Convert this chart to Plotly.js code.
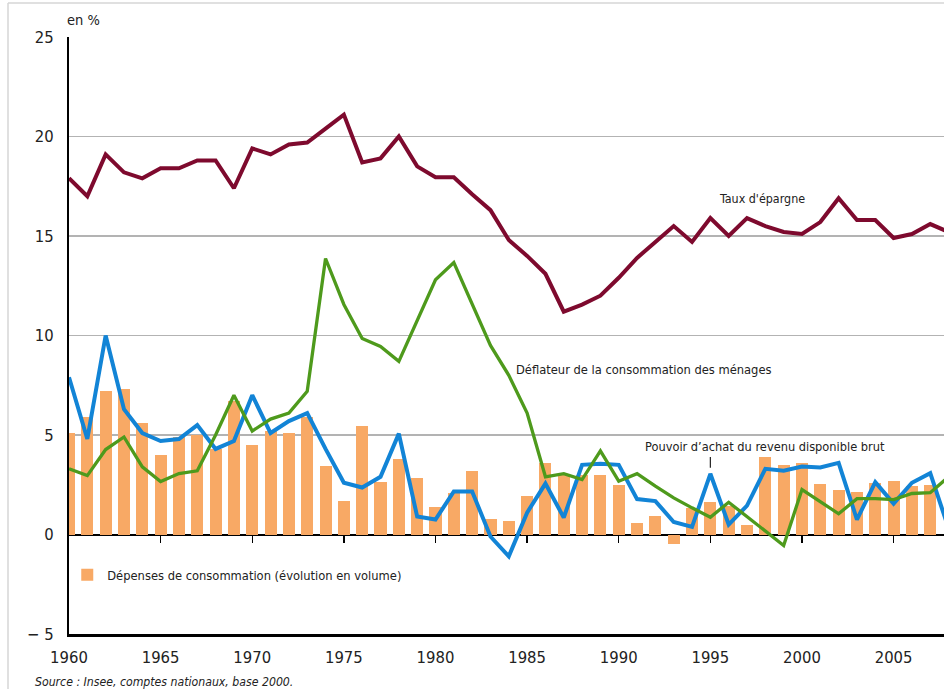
<!DOCTYPE html>
<html>
<head>
<meta charset="utf-8">
<script src="https://cdn.plot.ly/plotly-3.0.1.min.js"></script>
<style>html,body{margin:0;padding:0;background:#fff;}#chart{width:944px;height:689px;}</style>
</head>
<body>
<div id="chart"></div>
<script>
var years = [1960,1961,1962,1963,1964,1965,1966,1967,1968,1969,
             1970,1971,1972,1973,1974,1975,1976,1977,1978,1979,
             1980,1981,1982,1983,1984,1985,1986,1987,1988,1989,
             1990,1991,1992,1993,1994,1995,1996,1997,1998,1999,
             2000,2001,2002,2003,2004,2005,2006,2007,2008];

var barYears = [1960,1961,1962,1963,1964,1965,1966,1967,1968,1969,
                1970,1971,1972,1973,1974,1975,1976,1977,1978,1979,
                1980,1981,1982,1983,1984,1985,1986,1987,1988,1989,
                1990,1991,1992,1993,1994,1995,1996,1997,1998,1999,
                2000,2001,2002,2003,2004,2005,2006,2007];

var tauxEpargne = [17.9,17.0,19.1,18.2,17.9,18.4,18.4,18.8,18.8,17.4,
                   19.4,19.1,19.6,19.7,20.4,21.1,18.7,18.9,20.0,18.5,
                   17.95,17.95,17.1,16.3,14.8,14.0,13.1,11.2,11.55,12.0,
                   12.9,13.9,14.7,15.5,14.7,15.9,15.0,15.9,15.5,15.2,
                   15.1,15.7,16.9,15.8,15.8,14.9,15.1,15.6,15.2];

var deflateur = [3.3,2.96,4.27,4.9,3.4,2.66,3.06,3.2,5.0,7.0,
                 5.2,5.8,6.1,7.2,13.87,11.56,9.85,9.45,8.7,10.8,
                 12.8,13.67,11.56,9.5,8.0,6.1,2.9,3.06,2.76,4.2,
                 2.68,3.06,2.43,1.84,1.34,0.87,1.62,0.9,0.15,-0.55,
                 2.26,1.67,1.04,1.8,1.8,1.75,2.06,2.1,2.9];

var pouvoirAchat = [7.9,4.8,10.0,6.3,5.1,4.7,4.8,5.5,4.3,4.7,
                    7.0,5.1,5.7,6.1,4.3,2.6,2.36,2.9,5.07,0.9,
                    0.75,2.16,2.16,-0.1,-1.1,1.1,2.56,0.85,3.5,3.55,
                    3.5,1.78,1.68,0.63,0.38,3.05,0.5,1.45,3.3,3.2,
                    3.42,3.37,3.6,0.75,2.63,1.55,2.6,3.08,0.3];

var depenses = [5.1,5.9,7.2,7.3,5.6,4.0,4.9,5.0,4.3,6.7,
                4.5,5.2,5.1,5.9,3.45,1.7,5.47,2.66,3.8,2.86,
                1.4,2.1,3.2,0.8,0.7,1.96,3.6,3.0,3.0,3.0,
                2.48,0.6,0.92,-0.47,1.35,1.62,1.42,0.47,3.87,3.48,
                3.6,2.55,2.22,2.16,2.6,2.67,2.45,2.47];

var xTickVals = [1960,1965,1970,1975,1980,1985,1990,1995,2000,2005];
var xTickText = ['1960','1965','1970','1975','1980','1985','1990','1995','2000','2005'];
var yTickVals = [-5,0,5,10,15,20,25];
var yTickText = ['\u2212 5','0','5','10','15','20','25'];

var FONT = '"DejaVu Sans Condensed", "Liberation Sans Narrow", sans-serif';
var TXT = '#222';

var traces = [
  {type:'bar', x:barYears, y:depenses, width:0.66,
   marker:{color:'#f8a965', line:{width:0}},
   name:'Dépenses de consommation (évolution en volume)', showlegend:true, hoverinfo:'skip'},
  {type:'scatter', mode:'lines', x:years, y:pouvoirAchat,
   line:{color:'#1284d6', width:4}, showlegend:false, hoverinfo:'skip'},
  {type:'scatter', mode:'lines', x:years, y:deflateur,
   line:{color:'#4e9a1c', width:3.3}, showlegend:false, hoverinfo:'skip'},
  {type:'scatter', mode:'lines', x:years, y:tauxEpargne,
   line:{color:'#7e0a2e', width:4}, showlegend:false, hoverinfo:'skip'},
  {type:'scatter', mode:'lines', x:years, y:years.map(function(){return null;}),
   xaxis:'x2', yaxis:'y', showlegend:false, hoverinfo:'skip'}
];

var xr = [1960, 2007.75];

var layout = {
  width:944, height:689,
  margin:{l:69, r:0, t:37, b:55, autoexpand:false},
  paper_bgcolor:'#fff', plot_bgcolor:'#fff',
  font:{family:FONT, color:TXT, size:13},
  showlegend:true,
  bargap:0,
  legend:{x:-0.002, y:0.099, xanchor:'left', yanchor:'middle', bgcolor:'rgba(0,0,0,0)',
          font:{family:FONT, size:12.8, color:TXT}},
  xaxis:{range:xr, tickvals:xTickVals, ticktext:xTickText, ticks:'', showgrid:false,
         zeroline:false, showline:true, linecolor:'#000', linewidth:2.5,
         tickfont:{family:FONT, size:16.5, color:TXT}, ticklabelstandoff:7, fixedrange:true},
  xaxis2:{range:xr, overlaying:'x', anchor:'free', position:1/6, tickvals:xTickVals.slice(1),
          ticks:'outside', ticklen:7, tickwidth:1.5, tickcolor:'#000', showticklabels:false,
          showgrid:false, zeroline:false, showline:false, fixedrange:true},
  yaxis:{range:[-5,25], tickvals:yTickVals, ticktext:yTickText, showgrid:true,
         gridcolor:'#b3b3b3', gridwidth:1.6, zeroline:true, zerolinecolor:'#000', zerolinewidth:2,
         showline:true, linecolor:'#000', linewidth:2, ticks:'outside', ticklen:10,
         tickcolor:'rgba(0,0,0,0)', tickfont:{family:FONT, size:16.5, color:TXT}, fixedrange:true},
  annotations:[
    {xref:'paper', yref:'paper', x:-0.0046, y:1.0285, xanchor:'left', yanchor:'middle',
     text:'en %', showarrow:false, font:{family:FONT, size:14.5, color:TXT}},
    {xref:'x', yref:'y', x:1997.8, y:16.9, xanchor:'center', yanchor:'middle',
     text:'Taux d\'épargne', showarrow:false, font:{family:FONT, size:12.4, color:TXT}},
    {xref:'x', yref:'y', x:1984.3, y:8.3, xanchor:'left', yanchor:'middle',
     text:'Déflateur de la consommation des ménages', showarrow:false, font:{family:FONT, size:12.8, color:TXT}},
    {xref:'x', yref:'y', x:1991.3, y:4.4, xanchor:'left', yanchor:'middle',
     text:'Pouvoir d\u2019achat du revenu disponible brut', showarrow:false, font:{family:FONT, size:12.7, color:TXT}},
    {xref:'paper', yref:'paper', x:-0.041, y:-0.080, xanchor:'left', yanchor:'middle',
     text:'<i>Source : Insee, comptes nationaux, base 2000.</i>', showarrow:false,
     font:{family:FONT, size:12.2, color:TXT}}
  ],
  shapes:[
    {type:'line', xref:'x', yref:'y', x0:1995, x1:1995, y0:3.9, y1:3.35, line:{color:'#222', width:1.2}},
    {type:'line', xref:'paper', yref:'paper', x0:-0.0697, x1:-0.0697, y0:-0.1, y1:1.057, layer:'below',
     line:{color:'#d6d6d6', width:1.5}},
    {type:'line', xref:'paper', yref:'paper', x0:-0.0697, x1:1.1, y0:1.057, y1:1.057, layer:'below',
     line:{color:'#d6d6d6', width:1.5}}
  ]
};

Plotly.newPlot('chart', traces, layout, {staticPlot:true, displayModeBar:false});
</script>
</body>
</html>
